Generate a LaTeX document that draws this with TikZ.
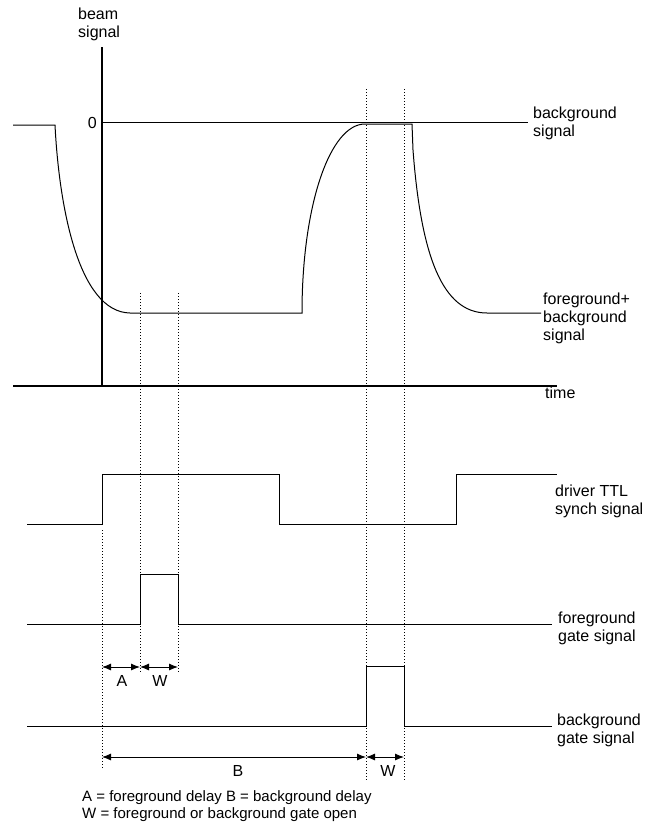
\documentclass[tikz,border=0pt]{standalone}
\usepackage{fontspec}
\setmainfont{Liberation Sans}
\usetikzlibrary{arrows.meta, positioning}

\begin{document}
\begin{tikzpicture}[
    x=1pt, y=-1pt,
    font=\fontsize{16}{18}\selectfont,
    axis/.style={line width=1.2pt},
    trace/.style={line width=1pt},
    guide/.style={line width=0.8pt, dash pattern=on 1.2pt off 1.8pt},
    span/.style={{Latex[length=9pt,width=7pt]}-{Latex[length=9pt,width=7pt]}, line width=0.9pt},
    sigtext/.style={anchor=west, align=left, inner sep=0pt},
    marktext/.style={inner sep=0pt}
]
\useasboundingbox (0,0) rectangle (660,836);

% Beam signal axes
\coordinate (axis_top) at (102,47);
\coordinate (origin) at (102,386);
\coordinate (time_end) at (557,386);
\draw[axis] (axis_top) -- (origin);
\draw[axis] (13,386) -- (time_end);
\node[sigtext, anchor=north west] (beam_lbl) at (78,8) {beam\\signal};
\node[marktext, anchor=east] (zero_lbl) at (97,123) {0};
\node[sigtext] (time_lbl) at (545,393) {time};

% Zero (background) level
\coordinate (zero_end) at (528,122);
\draw[trace] (102,122) -- (zero_end);
\node[sigtext] (bg_lbl) at (533,123) {background\\signal};

% Beam signal trace
\coordinate (fgbg_end) at (541,313);
\draw[trace] (13,125) -- (55,125)
    .. controls (59,205) and (78,312) .. (130,313) -- (302,313)
    .. controls (302,205) and (330,124) .. (365,124) -- (412,124)
    -- (413,150) .. controls (421,255) and (442,313) .. (487,313) -- (fgbg_end);
\node[sigtext] (fgbg_lbl) at (543,318) {foreground+\\background\\signal};

% Driver TTL synch signal
\draw[trace] (27,524) -- (102,524) -- (102,474) -- (279,474) -- (279,524)
    -- (456,524) -- (456,474) -- (557,474);
\node[sigtext] (ttl_lbl) at (555,501) {driver TTL\\synch signal};

% Foreground gate signal
\draw[trace] (27,624) -- (140,624) -- (140,574) -- (178,574) -- (178,624) -- (552,624);
\node[sigtext] (fg_lbl) at (558,628) {foreground\\gate signal};

% Background gate signal
\draw[trace] (27,726) -- (366,726) -- (366,666) -- (404,666) -- (404,726) -- (552,726);
\node[sigtext] (bgg_lbl) at (557,730) {background\\gate signal};

% Timing guides
\coordinate (a_start) at (102,667);
\coordinate (fg_open) at (140,667);
\coordinate (fg_close) at (178,667);
\coordinate (b_start) at (102,757);
\coordinate (bg_open) at (366,757);
\coordinate (bg_close) at (404,757);
\draw[guide] (140,293) -- (140,673);
\draw[guide] (178,293) -- (178,673);
\draw[guide] (102,530) -- (102,768);
\draw[guide] (366,89) -- (366,781);
\draw[guide] (404,89) -- (404,781);

% Delay and gate spans
\draw[span] (a_start) -- (fg_open);
\draw[span] (fg_open) -- (fg_close);
\draw[span] (b_start) -- (bg_open);
\draw[span] (bg_open) -- (bg_close);
\node[marktext] (a_lbl) at (122,681) {A};
\node[marktext] (w_lbl) at (160,681) {W};
\node[marktext] (b_lbl) at (238,771) {B};
\node[marktext] (w2_lbl) at (388,771) {W};

% Legend
\node[sigtext, font=\fontsize{15}{16.5}\selectfont] (legend) at (82,806)
    {A = foreground delay B = background delay\\W = foreground or background gate open};

\end{tikzpicture}
\end{document}
